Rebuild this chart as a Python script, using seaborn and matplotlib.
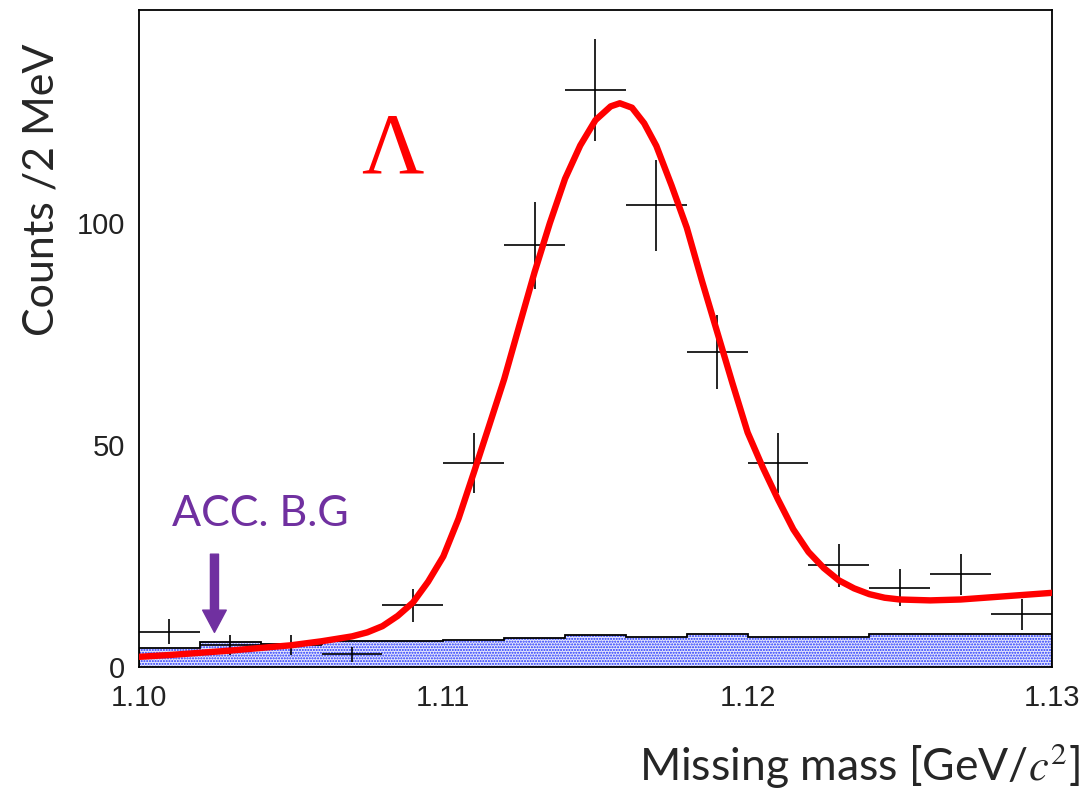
# -*- coding: utf-8 -*-
"""
Missing mass spectrum with Lambda peak, fit and accidental background
"""

import numpy as np
import pandas as pd
import seaborn as sns
import matplotlib.pyplot as plt

# Data points: bin centres, counts and errors
binCenters = [1.101, 1.103, 1.105, 1.107, 1.109, 1.111, 1.113, 1.115,
              1.117, 1.119, 1.121, 1.123, 1.125, 1.127, 1.129]
counts = [8, 5, 5, 3, 14, 46, 95, 130, 104, 71, 46, 23, 18, 21, 12]
countErr = [2.8, 2.2, 2.2, 1.7, 3.7, 6.8, 9.7, 11.4, 10.2, 8.4, 6.8, 4.8, 4.2, 4.6, 3.5]
binHalfWidth = [0.001] * len(binCenters)

# Accidental background histogram
accEdges = [1.100, 1.102, 1.104, 1.106, 1.108, 1.110, 1.112, 1.114,
            1.116, 1.118, 1.120, 1.122, 1.124, 1.126, 1.128, 1.130]
accCounts = [4.3, 5.8, 5.3, 5.9, 5.9, 6.2, 6.6, 7.4, 6.9, 7.5, 6.8, 6.8, 7.5, 7.5, 7.5]

# Fit curve
fitX = [1.1000, 1.1010, 1.1020, 1.1030, 1.1040, 1.1050, 1.1060, 1.1070, 1.1075,
        1.1080, 1.1085, 1.1090, 1.1095, 1.1100, 1.1105, 1.1110, 1.1115, 1.1120,
        1.1125, 1.1130, 1.1135, 1.1140, 1.1145, 1.1150, 1.1155, 1.1158, 1.1162,
        1.1166, 1.1170, 1.1175, 1.1180, 1.1185, 1.1190, 1.1195, 1.1200, 1.1205,
        1.1210, 1.1215, 1.1220, 1.1225, 1.1230, 1.1235, 1.1240, 1.1245, 1.1250,
        1.1260, 1.1270, 1.1280, 1.1290, 1.1300]
fitY = [2.4, 2.8, 3.3, 3.8, 4.4, 5.0, 5.9, 7.0, 7.9,
        9.3, 11.6, 14.6, 19.3, 25.0, 33.5, 43.8, 54.3, 64.9,
        77.0, 89.0, 100.0, 110.0, 117.5, 123.2, 126.3, 127.0, 126.0,
        122.5, 117.4, 108.5, 99.0, 87.0, 75.5, 64.0, 52.9, 45.0,
        37.8, 31.1, 26.0, 22.4, 19.6, 17.8, 16.5, 15.7, 15.3,
        15.1, 15.3, 15.8, 16.3, 16.8]

xTicks = [1.10, 1.11, 1.12, 1.13]
xTickLabels = ['1.10', '1.11', '1.12', '1.13']
yTicks = [0, 50, 100]

sns.set_style('white')
plt.rcParams['font.family'] = ['Liberation Sans', 'DejaVu Sans']
plt.rcParams['mathtext.fontset'] = 'stix'
plt.rcParams['hatch.linewidth'] = 1.0

fig = plt.figure(figsize=(10.91, 7.90), dpi=100)
ax = fig.add_axes([0.1274, 0.1551, 0.8368, 0.8323])

# Accidental background (dotted blue fill + black outline)
accFrame = pd.DataFrame({'mass': binCenters, 'w': accCounts})
sns.histplot(data=accFrame, x='mass', weights='w', bins=accEdges, element='step',
             fill=True, ax=ax, zorder=0.5)
accFill = ax.collections[-1]
accFill.set_facecolor('#e4e7fb')
accFill.set_edgecolor('#2030ff')
accFill.set_linewidth(0)
accFill.set_hatch('......')
ax.stairs(accCounts, accEdges, color='black', linewidth=1.3, zorder=0.6)

# Data points with error bars
ax.errorbar(binCenters, counts, xerr=binHalfWidth, yerr=countErr, fmt='none',
            ecolor='black', elinewidth=1.2, capsize=0, zorder=2)

# Fit
sns.lineplot(x=fitX, y=fitY, color='red', linewidth=4.6, sort=False,
             estimator=None, ax=ax, zorder=3)

ax.set_xlim(1.10, 1.13)
ax.set_ylim(0, 148)
ax.set_xticks(xTicks)
ax.set_xticklabels(xTickLabels)
ax.set_xticks(accEdges, minor=True)
ax.set_yticks(yTicks)
ax.set_yticks(np.arange(0, 150, 10), minor=True)
ax.set_axisbelow(False)
ax.tick_params(axis='both', which='both', direction='in', colors='black',
               labelcolor='#222222', labelsize=21)
ax.tick_params(axis='y', which='major', length=20, width=1.1, pad=10)
ax.tick_params(axis='y', which='minor', length=10.5, width=1.1)
ax.tick_params(axis='x', which='major', length=14.5, width=1.1, pad=12)
ax.tick_params(axis='x', which='minor', length=7.2, width=1.1)
for s in ax.spines.values():
    s.set_color('black')
    s.set_linewidth(1.3)
ax.set_xlabel('')
ax.set_ylabel('')

# Annotations
ax.text(1.10831, 116, 'Λ', color='red', fontsize=62, ha='center', va='center',
        family=['Liberation Serif', 'DejaVu Serif'])
ax.text(1.10398, 34.5, 'ACC. B.G', color='#7030A0', fontsize=31, ha='center',
        va='center', family=['Lato', 'DejaVu Sans'])
ax.annotate('', xy=(1.10248, 7.9), xytext=(1.10248, 25.5),
            arrowprops=dict(facecolor='#7030A0', edgecolor='#7030A0', width=5.8,
                            headwidth=17, headlength=16, shrink=0))

fig.text(42 / 1091, 1 - 190 / 790, 'Counts /2 MeV', rotation=90, fontsize=31,
         ha='center', va='center', family=['Lato', 'DejaVu Sans'])
fig.text(1080 / 1091, 1 - 765 / 790, r'Missing mass [GeV/$c^2$]', fontsize=32,
         ha='right', va='center', family=['Lato', 'DejaVu Sans'])

plt.savefig('out.png', dpi=100)
